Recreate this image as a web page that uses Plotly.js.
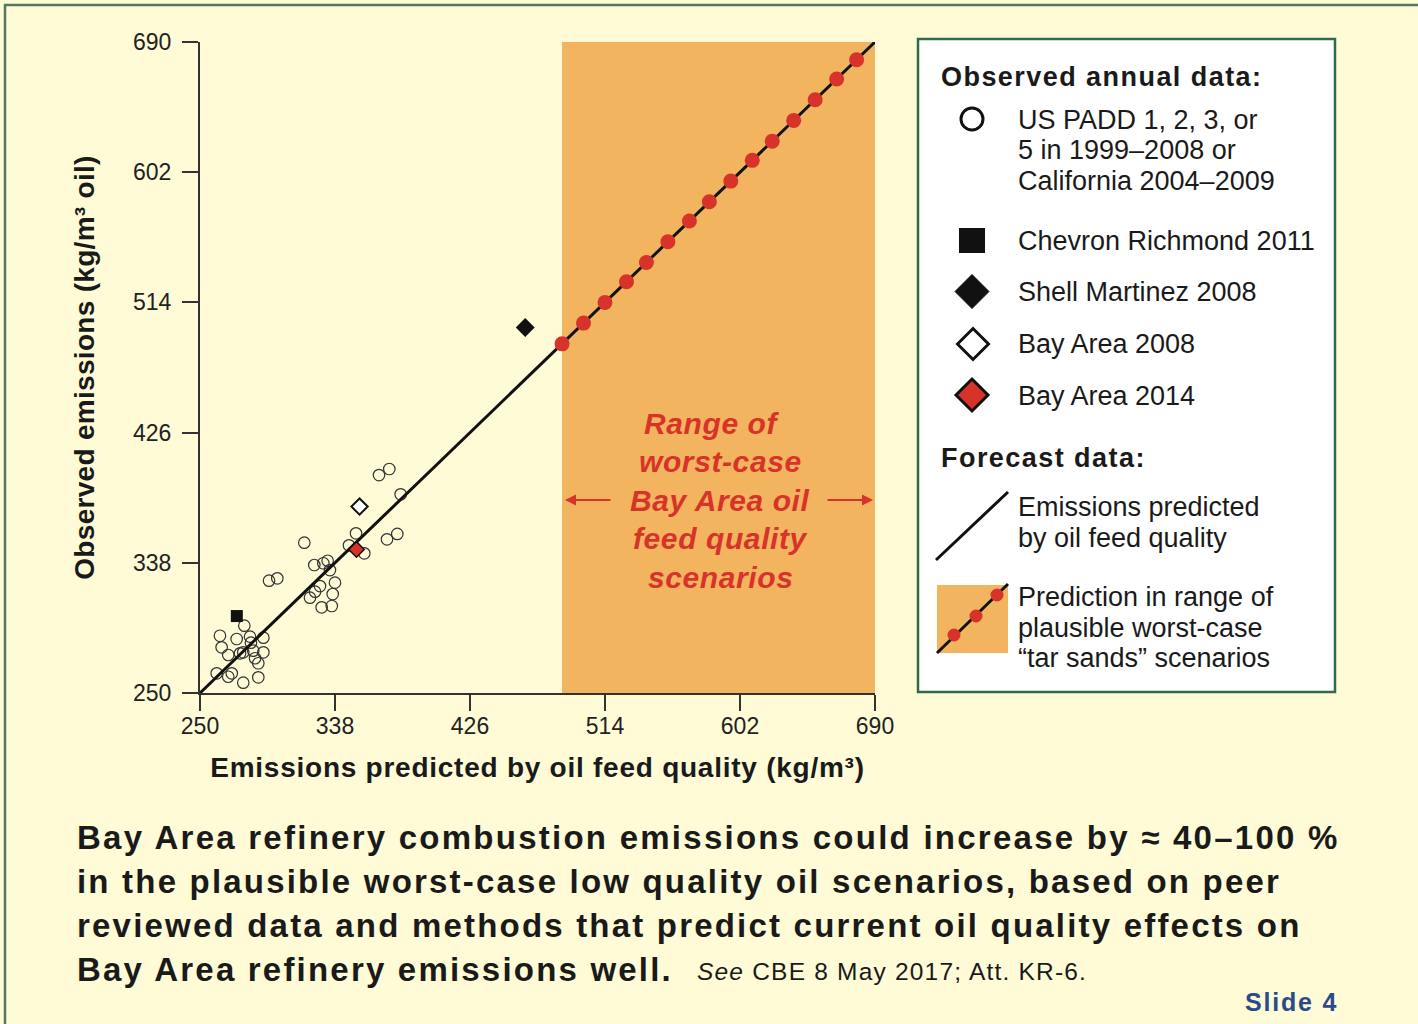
<!DOCTYPE html>
<html><head><meta charset="utf-8">
<script src="https://cdn.plot.ly/plotly-3.0.1.min.js"></script>
<style>html,body{margin:0;padding:0;background:#FEFBD6;}#chart{width:1418px;height:1024px;}</style>
</head><body><div id="chart"></div>
<script>
// ---------- data ----------
const axisTicks = [250, 338, 426, 514, 602, 690];
const padX = [373.4,366.7,380.8,351.7,318.0,371.9,378.6,347.1,357.1,324.5,330.4,333.2,334.7,338.0,328.2,325.0,336.5,321.7,329.3,335.9,295.0,300.4,278.9,263.0,273.9,282.6,291.3,264.1,283.2,268.4,276.1,284.7,291.3,278.2,288.0,285.9,260.9,270.7,268.4,278.2,288.0];
const padY = [401.4,397.3,384.3,357.9,351.6,353.9,357.5,349.8,344.4,336.5,337.7,339.4,333.1,324.6,322.3,318.5,316.9,314.4,307.9,308.8,325.9,327.5,295.5,288.7,286.5,288.1,287.4,280.9,284.0,275.7,276.8,278.6,277.5,277.5,270.1,273.5,263.3,263.3,261.0,257.0,260.6];
const chevronX = [274], chevronY = [302];
const shellX = [462], shellY = [497];
const bay2008X = [354], bay2008Y = [376];
const bay2014X = [352], bay2014Y = [347];
const forecastX = [250, 690], forecastY = [250, 690];
const scenarioX = [486,500,514,528,541,555,569,582,596,610,623,637,651,665,678];
const scenarioY = [486,500,514,528,541,555,569,582,596,610,623,637,651,665,678];
const scenarioRange = [486, 690];

// ---------- page geometry helpers (plot area in px) ----------
const L = 200, R = 875, T = 42, B = 693;
const PX = x => (x - L) / (R - L);
const PY = y => (B - y) / (B - T);

const RED = '#D8332A', ORANGE = '#F2B45E', INK = '#1a1a1a';
const FONT = 'Liberation Sans, Arial, Helvetica, sans-serif';

const traces = [
  {x: padX, y: padY, type: 'scatter', mode: 'markers', cliponaxis: false,
   marker: {symbol: 'circle-open', size: 11.5, color: '#333', line: {width: 1.2}}},
  {x: forecastX, y: forecastY, type: 'scatter', mode: 'lines', cliponaxis: false,
   line: {color: '#111', width: 3}},
  {x: scenarioX, y: scenarioY, type: 'scatter', mode: 'markers', cliponaxis: false,
   marker: {symbol: 'circle', size: 15, color: RED}},
  {x: chevronX, y: chevronY, type: 'scatter', mode: 'markers', cliponaxis: false,
   marker: {symbol: 'square', size: 12, color: '#111'}},
  {x: shellX, y: shellY, type: 'scatter', mode: 'markers', cliponaxis: false,
   marker: {symbol: 'diamond', size: 14.5, color: '#111'}},
  {x: bay2008X, y: bay2008Y, type: 'scatter', mode: 'markers', cliponaxis: false,
   marker: {symbol: 'diamond', size: 12.5, color: '#ffffff', line: {color: '#111', width: 2}}},
  {x: bay2014X, y: bay2014Y, type: 'scatter', mode: 'markers', cliponaxis: false,
   marker: {symbol: 'diamond', size: 12, color: RED, line: {color: '#111', width: 1.5}}}
];

function diamond(cx, cy, h) {
  return `M ${PX(cx-h)} ${PY(cy)} L ${PX(cx)} ${PY(cy-h)} L ${PX(cx+h)} ${PY(cy)} L ${PX(cx)} ${PY(cy+h)} Z`;
}
function circ(cx, cy, r, fill, lw) {
  return {type: 'circle', xref: 'paper', yref: 'paper', layer: 'above',
    x0: PX(cx-r), x1: PX(cx+r), y0: PY(cy+r), y1: PY(cy-r),
    fillcolor: fill, line: {color: '#111', width: lw}};
}

const shapes = [
  // page frame
  {type: 'line', xref: 'paper', yref: 'paper', x0: PX(5), x1: PX(5), y0: PY(4), y1: PY(1030), line: {color: '#4E7C5C', width: 2.5}},
  {type: 'line', xref: 'paper', yref: 'paper', x0: PX(4), x1: PX(1420), y0: PY(5), y1: PY(5), line: {color: '#4E7C5C', width: 2.5}},
  // scenario range band
  {type: 'rect', xref: 'x', yref: 'y', layer: 'below', x0: scenarioRange[0], x1: scenarioRange[1], y0: axisTicks[0], y1: axisTicks[axisTicks.length-1],
   fillcolor: ORANGE, line: {width: 0}},
  // legend box
  {type: 'rect', xref: 'paper', yref: 'paper', layer: 'above', x0: PX(918), x1: PX(1335), y0: PY(692), y1: PY(39),
   fillcolor: '#ffffff', line: {color: '#2F6B47', width: 2.5}},
  // legend glyphs
  circ(972, 119, 11, 'rgba(0,0,0,0)', 3),
  {type: 'rect', xref: 'paper', yref: 'paper', layer: 'above', x0: PX(959), x1: PX(985), y0: PY(253), y1: PY(228), fillcolor: '#111', line: {width: 0}},
  {type: 'path', xref: 'paper', yref: 'paper', layer: 'above', path: diamond(972, 291.5, 17), fillcolor: '#111', line: {color: '#111', width: 1}},
  {type: 'path', xref: 'paper', yref: 'paper', layer: 'above', path: diamond(973, 344, 15.5), fillcolor: '#ffffff', line: {color: '#111', width: 3}},
  {type: 'path', xref: 'paper', yref: 'paper', layer: 'above', path: diamond(972, 395, 16), fillcolor: RED, line: {color: '#111', width: 3}},
  {type: 'line', xref: 'paper', yref: 'paper', layer: 'above', x0: PX(936), y0: PY(560), x1: PX(1008), y1: PY(492), line: {color: '#111', width: 3}},
  {type: 'rect', xref: 'paper', yref: 'paper', layer: 'above', x0: PX(937), x1: PX(1008), y0: PY(653), y1: PY(585), fillcolor: ORANGE, line: {width: 0}},
  {type: 'line', xref: 'paper', yref: 'paper', layer: 'above', x0: PX(937), y0: PY(653), x1: PX(1008), y1: PY(584), line: {color: '#111', width: 3}},
  {type: 'circle', xref: 'paper', yref: 'paper', layer: 'above', x0: PX(947.5), x1: PX(960.5), y0: PY(641.5), y1: PY(628.5), fillcolor: RED, line: {width: 0}},
  {type: 'circle', xref: 'paper', yref: 'paper', layer: 'above', x0: PX(969.5), x1: PX(982.5), y0: PY(622.5), y1: PY(609.5), fillcolor: RED, line: {width: 0}},
  {type: 'circle', xref: 'paper', yref: 'paper', layer: 'above', x0: PX(990.5), x1: PX(1003.5), y0: PY(601.5), y1: PY(588.5), fillcolor: RED, line: {width: 0}}
];

const annotations = [];
function txt(text, x, y, size, opts) {
  opts = opts || {};
  annotations.push(Object.assign({
    text: text, xref: 'paper', yref: 'paper', x: PX(x), y: PY(y),
    xanchor: 'left', yanchor: 'middle', showarrow: false,
    font: {family: FONT, size: size, color: INK}
  }, opts));
}
const sp = (s, t) => `<span style="letter-spacing:${s}px">${t}</span>`;

// red scenario text
const redLines = [['Range of', 712, 423], ['worst-case', 720, 461], ['Bay Area oil', 720, 500], ['feed quality', 720, 538], ['scenarios', 720, 577]];
redLines.forEach(([t, x, y]) => txt(sp(0.6, '<b><i>' + t + '</i></b>'), x, y, 30, {xanchor: 'center', font: {family: FONT, size: 30, color: RED}}));
// arrows
annotations.push({text: '', xref: 'paper', yref: 'paper', x: PX(565), y: PY(500), ax: 47, ay: 0, showarrow: true,
  arrowhead: 2, arrowsize: 1.1, arrowwidth: 2, arrowcolor: RED, standoff: 0});
annotations.push({text: '', xref: 'paper', yref: 'paper', x: PX(873), y: PY(500), ax: -47, ay: 0, showarrow: true,
  arrowhead: 2, arrowsize: 1.1, arrowwidth: 2, arrowcolor: RED, standoff: 0});

// legend text
txt(sp(1.45, '<b>Observed annual data:</b>'), 939, 77, 27);
txt(sp(1.45, '<b>Forecast data:</b>'), 939, 458, 27);
[['US PADD 1, 2, 3, or', 120], ['5 in 1999–2008 or', 150], ['California 2004–2009', 181],
 ['Chevron Richmond 2011', 241], ['Shell Martinez 2008', 292], ['Bay Area 2008', 344], ['Bay Area 2014', 396],
 ['Emissions predicted', 507], ['by oil feed quality', 538],
 ['Prediction in range of', 597], ['plausible worst-case', 628], ['“tar sands” scenarios', 658]]
 .forEach(([t, y]) => txt(t, 1016, y, 27));

// caption
txt(sp(2.25, '<b>Bay Area refinery combustion emissions could increase by ≈ 40–100 %</b>'), 75, 837, 33);
txt(sp(2.2, '<b>in the plausible worst-case low quality oil scenarios, based on peer</b>'), 75, 881, 33);
txt(sp(2.2, '<b>reviewed data and methods that predict current oil quality effects on</b>'), 75, 925, 33);
txt(sp(2.2, '<b>Bay Area refinery emissions well.</b>'), 75, 969, 33);
txt(sp(1.2, '<i>See</i> CBE 8 May 2017; Att. KR-6.'), 695, 971, 24.5);
txt(sp(1.8, '<b>Slide 4</b>'), 1243, 1002, 25, {font: {family: FONT, size: 25, color: '#2A4A8C'}});

const axisCommon = {
  range: [axisTicks[0], axisTicks[axisTicks.length-1]], tickvals: axisTicks, ticktext: axisTicks.map(String),
  ticks: 'outside', ticklen: 16, tickwidth: 2, tickcolor: '#333',
  showline: true, linecolor: '#333', linewidth: 2, showgrid: false, zeroline: false,
  tickfont: {family: FONT, size: 23, color: '#222'}, fixedrange: true
};

const layout = {
  width: 1418, height: 1024,
  margin: {l: L, r: 1418 - R, t: T, b: 1024 - B, pad: 0},
  paper_bgcolor: '#FEFBD6', plot_bgcolor: 'rgba(0,0,0,0)',
  font: {family: FONT, color: INK},
  showlegend: false,
  xaxis: Object.assign({}, axisCommon, {
    ticklabelstandoff: -5,
    title: {text: sp(0.75, '<b>Emissions predicted by oil feed quality (kg/m³)</b>'), font: {family: FONT, size: 28, color: INK}, standoff: 20}
  }),
  yaxis: Object.assign({}, axisCommon, {
    ticklabelstandoff: 6,
    title: {text: sp(0.3, '<b>Observed emissions (kg/m³ oil)</b>'), font: {family: FONT, size: 28, color: INK}, standoff: 30}
  }),
  shapes: shapes,
  annotations: annotations
};

Plotly.newPlot('chart', traces, layout, {displayModeBar: false, staticPlot: true});
</script></body></html>
